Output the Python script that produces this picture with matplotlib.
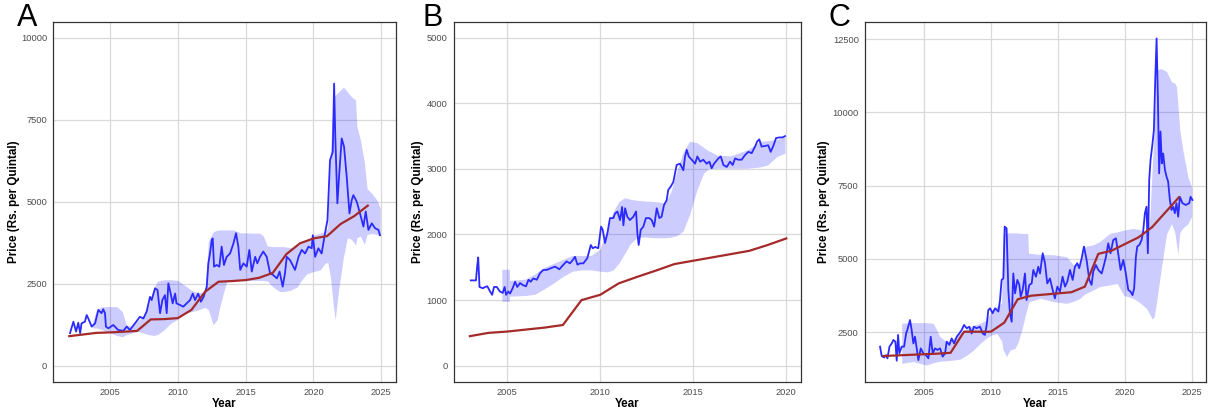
import matplotlib
matplotlib.use("Agg")
import matplotlib.pyplot as plt

plt.rcParams['font.family'] = ['Liberation Sans', 'DejaVu Sans']

# ---------------- Panel A ----------------
a_t = [2002.05, 2002.3, 2002.5, 2002.66, 2002.8, 2002.9, 2003.15, 2003.28, 2003.4, 2003.65,
       2003.9, 2004.14, 2004.38, 2004.5, 2004.63, 2004.7, 2004.88, 2005.24, 2005.6, 2005.98,
       2006.23, 2006.47, 2006.84, 2007.2, 2007.46, 2007.7, 2007.95, 2008.07, 2008.32, 2008.5,
       2008.69, 2008.86, 2009.05, 2009.18, 2009.3, 2009.47, 2009.62, 2009.8, 2009.9, 2010.16,
       2010.4, 2010.65, 2010.9, 2011.1, 2011.27, 2011.5, 2011.7, 2011.9, 2012.13, 2012.25,
       2012.37, 2012.5, 2012.57, 2012.67, 2012.87, 2013.06, 2013.23, 2013.4, 2013.6, 2013.85,
       2014.1, 2014.29, 2014.46, 2014.6, 2014.83, 2015.08, 2015.27, 2015.45, 2015.7, 2015.86,
       2016.06, 2016.3, 2016.55, 2016.8, 2017.04, 2017.3, 2017.5, 2017.73, 2017.9, 2018.03,
       2018.27, 2018.64, 2018.9, 2019.13, 2019.38, 2019.63, 2019.87, 2019.95, 2020.12, 2020.36,
       2020.6, 2020.85, 2021.03, 2021.22, 2021.42, 2021.52, 2021.6, 2021.76, 2021.9, 2022.08,
       2022.25, 2022.45, 2022.65, 2022.82, 2022.94, 2023.19, 2023.43, 2023.68, 2023.85, 2024.05,
       2024.3, 2024.54, 2024.79, 2024.9]
a_price = [990, 1340, 1040, 1310, 990, 1290, 1340, 1545, 1440, 1190,
           1290, 1700, 1600, 1720, 1600, 1190, 1140, 1240, 1090, 1060,
           1190, 1090, 1290, 1490, 1440, 1650, 2100, 2000, 2360, 2310,
           1600, 2000, 2150, 1600, 2510, 2200, 1900, 2200, 1900, 1850,
           1800, 1900, 2000, 2200, 2000, 2200, 1950, 2100, 2400, 3120,
           3420, 3830, 3880, 3020, 3070, 3020, 3630, 3070, 3320, 3420,
           3730, 4040, 3630, 2920, 3120, 3020, 3530, 2870, 3320, 3120,
           3320, 3480, 3320, 2820, 2760, 2660, 2870, 2410, 2820, 3320,
           3220, 2920, 3320, 3530, 3420, 3630, 3580, 3980, 3320, 3580,
           3420, 4040, 4440, 6270, 6520, 8600, 7080, 4950, 5860, 6930,
           6680, 5760, 4640, 5050, 5200, 5000, 4640, 4240, 4700, 4140,
           4340, 4190, 4140, 3980]
a_band_t = [2003.7, 2004.0, 2004.4, 2005.0, 2005.5, 2005.9, 2006.2, 2006.6, 2007.0, 2007.4,
            2007.8, 2008.2, 2008.5, 2009.0, 2009.5, 2010.0, 2010.5, 2011.0, 2011.5, 2012.0,
            2012.25, 2012.6, 2012.9, 2013.1, 2013.35, 2013.6, 2014.1, 2014.6, 2015.1, 2015.6,
            2016.05, 2016.3, 2016.6, 2017.0, 2017.5, 2017.8, 2018.3, 2018.8, 2019.1, 2019.5,
            2020.0, 2020.5, 2020.85, 2021.05, 2021.25, 2021.47, 2021.6, 2021.85, 2022.1, 2022.2,
            2022.5, 2022.8, 2023.1, 2023.2, 2023.45, 2023.75, 2023.95, 2024.3, 2024.67, 2024.92]
a_upper = [1300, 1700, 1800, 1800, 1800, 1650, 1250, 1200, 1350, 1500,
           1800, 2350, 2580, 2620, 2620, 2600, 2450, 2300, 2220, 2250,
           3800, 4080, 4130, 4140, 4140, 4140, 4140, 4050, 4050, 4040,
           4040, 3950, 3650, 3630, 3630, 3630, 3600, 3650, 3730, 3800,
           3980, 4040, 4100, 4200, 6500, 8200, 8250, 8350, 8450, 8500,
           8350, 8200, 8100, 7300, 6900, 6200, 5400, 5250, 5050, 4800]
a_lower = [1150, 1150, 1100, 1000, 920, 880, 950, 1000, 1050, 1000,
           950, 920, 950, 1100, 1300, 1420, 1600, 1650, 1700, 1780,
           1700, 1250, 1400, 1800, 2200, 2560, 2580, 2600, 2600, 2600,
           2600, 2600, 2580, 2400, 2260, 2260, 2300, 2400, 2600, 2800,
           2870, 2920, 3120, 3150, 2700, 1800, 1400, 2300, 3000, 3300,
           3900, 3850, 3680, 3900, 3950, 3700, 4000, 4030, 4000, 3950]
a_msp_years = [2002, 2003, 2004, 2005, 2006, 2007, 2008, 2009, 2010, 2011, 2012, 2013,
               2014, 2015, 2016, 2017, 2018, 2019, 2020, 2021, 2022, 2023, 2024]
a_msp = [900, 950, 1000, 1015, 1035, 1060, 1410, 1420, 1450, 1700, 2250, 2560,
         2580, 2610, 2680, 2830, 3400, 3730, 3880, 3950, 4320, 4560, 4880]

# ---------------- Panel B ----------------
b_t = [2003.05, 2003.33, 2003.39, 2003.45, 2003.52, 2003.7, 2003.82, 2003.94, 2004.09, 2004.2,
       2004.3, 2004.45, 2004.62, 2004.77, 2004.87, 2004.95, 2005.07, 2005.16, 2005.3, 2005.43,
       2005.55, 2005.7, 2005.84, 2006.02, 2006.15, 2006.27, 2006.41, 2006.6, 2006.77, 2006.95,
       2007.13, 2007.3, 2007.58, 2007.81, 2008.03, 2008.2, 2008.38, 2008.53, 2008.65, 2008.78,
       2008.92, 2009.1, 2009.31, 2009.5, 2009.6, 2009.73, 2009.9, 2010.05, 2010.14, 2010.26,
       2010.39, 2010.53, 2010.71, 2010.8, 2010.93, 2011.07, 2011.18, 2011.25, 2011.34, 2011.46,
       2011.6, 2011.78, 2011.93, 2012.0, 2012.07, 2012.18, 2012.32, 2012.46, 2012.64, 2012.77,
       2012.9, 2013.04, 2013.18, 2013.3, 2013.43, 2013.57, 2013.66, 2013.79, 2013.93, 2014.11,
       2014.29, 2014.47, 2014.56, 2014.65, 2014.76, 2014.92, 2015.1, 2015.22, 2015.37, 2015.54,
       2015.72, 2015.87, 2015.99, 2016.12, 2016.35, 2016.48, 2016.62, 2016.8, 2016.98, 2017.12,
       2017.25, 2017.42, 2017.6, 2017.78, 2017.96, 2018.14, 2018.32, 2018.44, 2018.55, 2018.67,
       2018.86, 2019.03, 2019.16, 2019.3, 2019.45, 2019.63, 2019.8, 2019.93]
b_price = [1300, 1300, 1500, 1650, 1200, 1180, 1200, 1210, 1130, 1080,
           1200, 1200, 1130, 1110, 1200, 1080, 1130, 1100, 1180, 1280,
           1200, 1260, 1230, 1210, 1310, 1280, 1330, 1310, 1410, 1460,
           1460, 1480, 1510, 1470, 1540, 1590, 1560, 1610, 1660, 1540,
           1560, 1560, 1640, 1840, 1790, 1810, 1790, 2120, 2070, 1870,
           2020, 2250, 2250, 2320, 2350, 2220, 2420, 2140, 2400, 2270,
           2220, 2270, 2350, 2020, 1840, 2070, 2120, 2250, 2250, 2220,
           2120, 2400, 2250, 2270, 2450, 2520, 2680, 2730, 2800, 3060,
           3080, 2980, 3190, 3290, 3190, 3140, 3080, 3190, 3110, 3140,
           3080, 3110, 3010, 3080, 3160, 3190, 3060, 3030, 3110, 3060,
           3160, 3140, 3140, 3210, 3260, 3240, 3340, 3420, 3450, 3340,
           3350, 3360, 3260, 3350, 3470, 3480, 3480, 3500]
b_band_t = [2004.72, 2005.12, 2005.14, 2006.0, 2006.5, 2007.0, 2007.5, 2008.0, 2008.5, 2009.0,
            2009.5, 2010.0, 2010.4, 2010.7, 2011.0, 2011.3, 2011.6, 2012.0, 2012.5, 2013.0,
            2013.5, 2013.8, 2014.1, 2014.45, 2014.8, 2015.2, 2015.55, 2015.8, 2016.3, 2017.0,
            2017.9, 2018.6, 2019.0, 2019.5, 2019.93]
b_upper = [1470, 1470, 1300, 1320, 1400, 1500, 1560, 1620, 1680, 1680,
           1680, 1780, 2100, 2350, 2500, 2560, 2540, 2520, 2510, 2500,
           2480, 2650, 2950, 3250, 3420, 3400, 3330, 3280, 3210, 3200,
           3290, 3420, 3430, 3450, 3490]
b_lower = [980, 980, 1060, 1070, 1090, 1170, 1260, 1360, 1440, 1460,
           1460, 1440, 1430, 1460, 1560, 1700, 1850, 1960, 1960, 1950,
           1950, 1960, 1980, 2050, 2300, 2680, 2930, 3000, 3010, 3010,
           3010, 3030, 3060, 3190, 3240]
b_msp_years = [2003, 2004, 2005, 2006, 2007, 2008, 2009, 2010, 2011, 2012, 2013, 2014,
               2015, 2016, 2017, 2018, 2019, 2020]
b_msp = [450, 500, 520, 550, 580, 620, 1000, 1080, 1255, 1355, 1450, 1550,
         1600, 1650, 1700, 1750, 1840, 1940]

# ---------------- Panel C ----------------
c_t = [2001.75, 2001.87, 2002.05, 2002.2, 2002.3, 2002.45, 2002.62, 2002.74, 2002.89, 2002.99,
       2003.09, 2003.19, 2003.36, 2003.54, 2003.69, 2003.78, 2003.98, 2004.1, 2004.23, 2004.35,
       2004.48, 2004.6, 2004.78, 2004.97, 2005.17, 2005.35, 2005.52, 2005.67, 2005.84, 2006.02,
       2006.22, 2006.41, 2006.59, 2006.71, 2006.91, 2007.08, 2007.26, 2007.46, 2007.65, 2007.83,
       2008.0, 2008.2, 2008.4, 2008.57, 2008.74, 2008.94, 2009.19, 2009.39, 2009.56, 2009.69,
       2009.81, 2009.94, 2010.13, 2010.31, 2010.56, 2010.68, 2010.8, 2010.93, 2011.03, 2011.17,
       2011.3, 2011.42, 2011.55, 2011.67, 2011.8, 2011.97, 2012.12, 2012.22, 2012.37, 2012.54,
       2012.66, 2012.86, 2013.04, 2013.16, 2013.36, 2013.53, 2013.66, 2013.86, 2014.03, 2014.2,
       2014.4, 2014.6, 2014.77, 2014.95, 2015.14, 2015.34, 2015.52, 2015.69, 2015.89, 2016.09,
       2016.26, 2016.43, 2016.58, 2016.76, 2016.93, 2017.13, 2017.33, 2017.5, 2017.62, 2017.82,
       2018.0, 2018.25, 2018.42, 2018.57, 2018.74, 2018.91, 2019.11, 2019.31, 2019.48, 2019.66,
       2019.86, 2020.05, 2020.23, 2020.4, 2020.55, 2020.67, 2020.8, 2020.9, 2021.05, 2021.22,
       2021.34, 2021.47, 2021.59, 2021.69, 2021.79, 2021.89, 2022.04, 2022.14, 2022.24, 2022.34,
       2022.44, 2022.53, 2022.63, 2022.73, 2022.83, 2022.96, 2023.08, 2023.2, 2023.33, 2023.45,
       2023.58, 2023.7, 2023.82, 2023.95, 2024.07, 2024.27, 2024.52, 2024.77, 2024.87, 2025.01]
c_price = [2000, 1680, 1630, 1710, 1600, 2000, 2110, 2230, 2170, 1520,
           2400, 1770, 2000, 2000, 2450, 2570, 2910, 2570, 2110, 2340,
           1940, 1540, 1940, 1770, 1710, 1600, 2340, 1770, 1940, 1890,
           1940, 1660, 1770, 2170, 2060, 2280, 2110, 2340, 2450, 2570,
           2740, 2630, 2680, 2450, 2680, 2630, 2680, 2450, 2400, 2740,
           3250, 3310, 3140, 3310, 3200, 3590, 4280, 4330, 6100, 6040,
           3940, 3140, 2850, 4500, 3820, 4280, 4110, 3710, 3940, 4500,
           3590, 4110, 4160, 4620, 4390, 4730, 4500, 5190, 4850, 4160,
           4330, 3940, 3650, 4050, 3880, 4390, 4050, 4220, 4620, 4280,
           4730, 4850, 4680, 5020, 5420, 4960, 4280, 4110, 4560, 4790,
           4620, 4500, 4790, 5070, 5530, 5190, 5640, 5700, 5190, 4620,
           4960, 4500, 3940, 3880, 3760, 3990, 5070, 5420, 5470, 5640,
           5930, 6560, 6780, 5190, 7690, 8380, 8950, 9400, 11110, 12530,
           10430, 7920, 9350, 8260, 8600, 8040, 7810, 7640, 7010, 6670,
           6780, 6560, 6900, 6440, 7120, 6900, 6840, 6900, 7120, 7010]
c_band_t = [2003.36, 2004.2, 2005.2, 2005.7, 2005.97, 2006.2, 2006.71, 2007.2, 2007.7, 2008.2,
            2008.7, 2009.2, 2009.7, 2010.06, 2010.43, 2010.8, 2010.9, 2011.17, 2011.42, 2011.8,
            2012.04, 2012.3, 2012.54, 2012.75, 2012.8, 2012.9, 2013.66, 2014.65, 2015.64, 2016.14,
            2016.63, 2017.0, 2017.62, 2018.1, 2018.86, 2019.4, 2019.9, 2020.6, 2021.1, 2021.6,
            2021.84, 2022.0, 2022.15, 2022.3, 2022.7, 2023.08, 2023.45, 2023.7, 2023.82, 2023.92,
            2024.07, 2024.3, 2024.67, 2024.95]
c_upper = [2800, 2820, 2820, 2800, 2570, 2340, 2170, 2280, 2450, 2620,
           2740, 2800, 2910, 3250, 3370, 3500, 5870, 5880, 5890, 5890,
           5880, 5870, 5870, 5860, 5190, 5190, 5150, 5140, 5070, 4800,
           4850, 5420, 5480, 5590, 5870, 5920, 5980, 6040, 6000, 5870,
           6400, 8000, 9300, 11450, 11500, 11400, 11050, 11000, 10880, 10300,
           9400, 8700, 7800, 7450]
c_lower = [1430, 1490, 1370, 1450, 1480, 1500, 1520, 1540, 1570, 1710,
           1880, 2110, 2300, 2400, 2450, 2200, 1900, 1660, 1880, 1940,
           2170, 2570, 3020, 3400, 3480, 3540, 3650, 3540, 3480, 3550,
           3650, 3800, 3935, 4050, 4110, 4160, 3750, 3650, 3500, 3300,
           3100, 2950, 3000, 3400, 4700, 5850, 6200, 5900, 5500, 5150,
           5900, 6050, 6200, 6450]
c_msp_years = [2002, 2003, 2004, 2005, 2006, 2007, 2008, 2009, 2010, 2011, 2012, 2013,
               2014, 2015, 2016, 2017, 2018, 2019, 2020, 2021, 2022, 2023, 2024]
c_msp = [1680, 1700, 1720, 1740, 1760, 1790, 2510, 2510, 2510, 2820, 3620, 3740,
         3780, 3820, 3860, 4050, 5170, 5280, 5510, 5735, 6080, 6590, 7100]

a_xticks = [2005, 2010, 2015, 2020, 2025]
b_xticks = [2005, 2010, 2015, 2020]
c_xticks = [2005, 2010, 2015, 2020, 2025]
a_yticks = [0, 2500, 5000, 7500, 10000]
b_yticks = [0, 1000, 2000, 3000, 4000, 5000]
c_yticks = [2500, 5000, 7500, 10000, 12500]

BAND = '#0000FF'
LINE = '#2B2BFF'
MSP = '#A52A2A'
GRID = '#D9D9D9'
TICK = '#4D4D4D'

fig = plt.figure(figsize=(12.1, 4.16), dpi=100)

panels = [
    dict(letter='A', rect=[0.04405, 0.0825, 0.2832, 0.8639], lx=0.014,
         t=a_t, p=a_price, bt=a_band_t, up=a_upper, lo=a_lower,
         my=a_msp_years, m=a_msp, xlim=(2000.82, 2026.08), ylim=(-488, 10470),
         xt=a_xticks, yt=a_yticks, ylab_x=-0.1147),
    dict(letter='B', rect=[0.3752, 0.0825, 0.2868, 0.8639], lx=0.3493,
         t=b_t, p=b_price, bt=b_band_t, up=b_upper, lo=b_lower,
         my=b_msp_years, m=b_msp, xlim=(2002.15, 2020.79), ylim=(-244, 5235),
         xt=b_xticks, yt=b_yticks, ylab_x=-0.1037),
    dict(letter='C', rect=[0.7149, 0.0825, 0.2818, 0.8639], lx=0.6851,
         t=c_t, p=c_price, bt=c_band_t, up=c_upper, lo=c_lower,
         my=c_msp_years, m=c_msp, xlim=(2000.63, 2026.02), ylim=(803, 13081),
         xt=c_xticks, yt=c_yticks, ylab_x=-0.120),
]

for P in panels:
    ax = fig.add_axes(P['rect'])
    ax.set_axisbelow(True)
    ax.grid(True, color=GRID, linewidth=0.9)
    ax.fill_between(P['bt'], P['lo'], P['up'], color=BAND, alpha=0.2,
                    linewidth=0, zorder=2)
    ax.plot(P['t'], P['p'], color=LINE, linewidth=1.3, zorder=3)
    ax.plot(P['my'], P['m'], color=MSP, linewidth=1.6, zorder=4)
    ax.set_xlim(*P['xlim'])
    ax.set_ylim(*P['ylim'])
    ax.set_xticks(P['xt'])
    ax.set_yticks(P['yt'])
    ax.set_xticklabels([str(v) for v in P['xt']])
    ax.set_yticklabels([str(v) for v in P['yt']])
    ax.tick_params(length=0, labelsize=6.7, labelcolor=TICK, pad=4.5)
    for s in ax.spines.values():
        s.set_color('#333333')
        s.set_linewidth(0.9)
    ax.set_xlabel('Year', fontsize=8.4, fontweight='bold')
    ax.xaxis.set_label_coords(0.5, -0.062)
    ax.xaxis.label.set_va('center')
    ax.set_ylabel('Price (Rs. per Quintal)', fontsize=8.4, fontweight='bold')
    ax.yaxis.set_label_coords(P['ylab_x'], 0.5)
    ax.yaxis.label.set_va('center')
    # panel letter, kept just clear of the topmost y tick label
    fig.text(P['lx'], 0.9363, P['letter'], fontsize=22, ha='left', va='baseline',
             color='black')

fig.savefig('out.png', dpi=100, facecolor='white')
